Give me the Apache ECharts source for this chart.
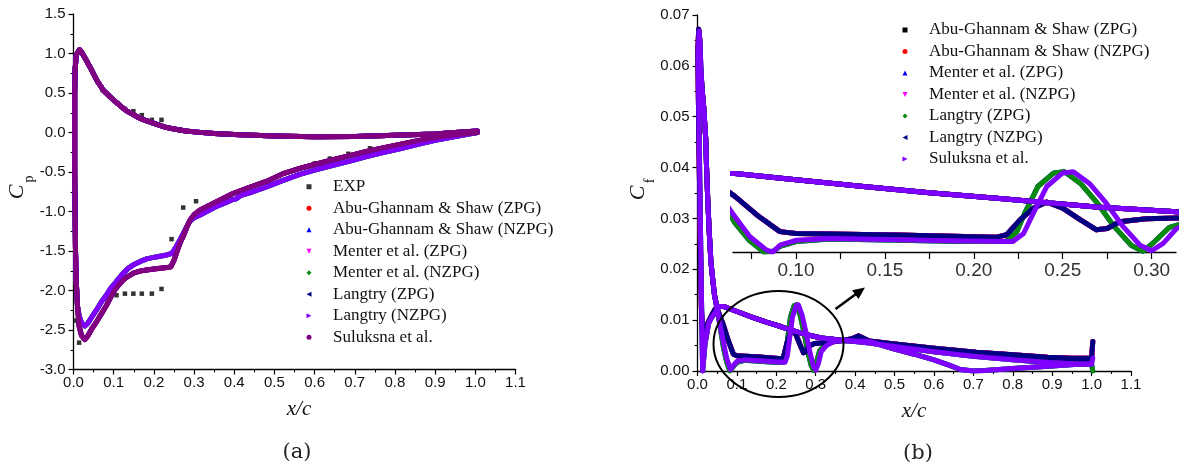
<!DOCTYPE html>
<html><head><meta charset="utf-8">
<script src="https://cdn.jsdelivr.net/npm/echarts@6/dist/echarts.min.js"></script>
<style>html,body{margin:0;padding:0;background:#fff}#c{width:1184px;height:470px}</style>
</head><body><div id="c"></div>
<script>
// ---------- Panel (a): pressure coefficient ----------
const cpNames = ['EXP','Abu-Ghannam & Shaw (ZPG)','Abu-Ghannam & Shaw (NZPG)','Menter et al. (ZPG)','Menter et al. (NZPG)','Langtry (ZPG)','Langtry (NZPG)','Suluksna et al.'];
const cpExp = [[0.006,-2.38],[0.014,-2.66],[0.072,0.54],[0.091,0.45],[0.109,0.37],[0.128,0.30],[0.149,0.27],[0.170,0.22],[0.195,0.16],[0.219,0.16],
  [0.107,-2.06],[0.128,-2.04],[0.149,-2.04],[0.170,-2.04],[0.195,-2.04],[0.219,-1.98],[0.244,-1.35],[0.273,-0.95],[0.305,-0.87],
  [0.601,-0.39],[0.638,-0.33],[0.684,-0.27],[0.738,-0.20]];
// pressure side, trailing edge -> leading edge
const cpPressure = [[1.005,0.02],[0.95,0.0],[0.9,-0.02],[0.8,-0.035],[0.7,-0.05],[0.6,-0.055],[0.5,-0.045],[0.45,-0.035],[0.4,-0.025],[0.35,-0.012],
  [0.3,0.008],[0.28,0.018],[0.25,0.045],[0.23,0.065],[0.2,0.115],[0.165,0.18],[0.13,0.28],[0.1,0.41],[0.075,0.53],[0.058,0.66],[0.041,0.83],
  [0.029,0.94],[0.02,1.02],[0.015,1.05],[0.011,1.04],[0.007,0.98]];
const cpLead = [[0.004,0.8],[0.003,0.5],[0.003,0.0],[0.003,-0.5],[0.004,-1.0],[0.005,-1.5],[0.007,-1.9],[0.010,-2.2]];
// suction side, ZPG-type group
const cpSuctionA = [[0.014,-2.45],[0.020,-2.57],[0.028,-2.62],[0.035,-2.58],[0.045,-2.49],[0.058,-2.39],[0.07,-2.29],[0.083,-2.18],[0.093,-2.08],
  [0.103,-1.99],[0.114,-1.92],[0.124,-1.865],[0.136,-1.82],[0.149,-1.78],[0.165,-1.755],[0.182,-1.74],[0.205,-1.725],[0.232,-1.71],[0.242,-1.70],
  [0.25,-1.62],[0.258,-1.5],[0.265,-1.40],[0.274,-1.3],[0.282,-1.2],[0.29,-1.11],[0.3,-1.04],[0.315,-0.98],[0.335,-0.93],[0.356,-0.876],[0.398,-0.77],
  [0.44,-0.69],[0.48,-0.62],[0.52,-0.525],[0.563,-0.455],[0.6,-0.405],[0.646,-0.345],[0.69,-0.29],[0.729,-0.24],[0.77,-0.195],[0.812,-0.15],
  [0.86,-0.1],[0.9,-0.065],[0.95,-0.03],[1.005,0.0]];
// suction side, NZPG-type group
const cpSuctionB = [[0.014,-2.32],[0.020,-2.41],[0.028,-2.45],[0.035,-2.42],[0.045,-2.34],[0.058,-2.24],[0.07,-2.14],[0.083,-2.05],[0.093,-1.97],
  [0.103,-1.91],[0.114,-1.84],[0.124,-1.78],[0.136,-1.72],[0.149,-1.675],[0.165,-1.635],[0.182,-1.60],[0.205,-1.575],[0.232,-1.55],[0.245,-1.53],
  [0.255,-1.45],[0.265,-1.36],[0.274,-1.27],[0.282,-1.19],[0.29,-1.12],[0.3,-1.08],[0.315,-1.045],[0.335,-0.99],[0.356,-0.935],[0.38,-0.885],
  [0.395,-0.85],[0.405,-0.84],[0.415,-0.80],[0.44,-0.76],[0.48,-0.69],[0.52,-0.61],[0.563,-0.53],[0.6,-0.475],[0.646,-0.415],[0.69,-0.36],
  [0.729,-0.305],[0.77,-0.255],[0.812,-0.205],[0.86,-0.145],[0.9,-0.1],[0.95,-0.05],[1.005,0.0]];
const cpGroup = [null,'A','B','A','B','A','B','A'];

// ---------- Panel (b): skin friction coefficient ----------
const cfNames = ['Abu-Ghannam & Shaw (ZPG)','Abu-Ghannam & Shaw (NZPG)','Menter et al. (ZPG)','Menter et al. (NZPG)','Langtry (ZPG)','Langtry (NZPG)','Suluksna et al.'];
const cfPress = [[0.055,0.0127],[0.0657,0.0127],[0.1,0.0117],[0.138,0.0106],[0.175,0.0096],[0.213,0.0087],[0.24,0.0080],[0.269,0.0073],
  [0.314,0.0065],[0.36,0.0061],[0.40,0.0059],[0.436,0.0058]];
const cfPressTailL = [[0.5,0.0051],[0.6,0.0044],[0.707,0.0036],[0.8,0.0031],[0.888,0.0026],[0.95,0.0024],[1.0,0.0022]];
const cfPressTailE = [[0.5,0.0043],[0.55,0.0033],[0.6,0.0022],[0.64,0.0011],[0.667,0.0003],[0.70,0.0],[0.73,0.0001],[0.8,0.0005],[0.9,0.0010],[1.0,0.0015]];
const cfLeadL = [[0.045,0.0122],[0.035,0.0108],[0.025,0.0092],[0.018,0.0080],[0.013,0.0072],[0.010,0.012],[0.008,0.022],[0.006,0.032],
  [0.004,0.043],[0.002,0.055],[0.001,0.063],[0.003,0.0672],[0.005,0.066],[0.008,0.0595],[0.012,0.055],[0.015,0.0527],[0.021,0.0455],
  [0.023,0.040],[0.026,0.0337],[0.030,0.027],[0.034,0.0215],[0.038,0.0185],[0.043,0.0150],[0.050,0.0122]];
const cfLeadE = [[0.045,0.0115],[0.035,0.0104],[0.028,0.0093],[0.019,0.0053],[0.013,0.0],[0.011,0.010],[0.009,0.020],[0.007,0.031],
  [0.005,0.042],[0.003,0.054],[0.002,0.062],[0.004,0.0668],[0.006,0.065],[0.009,0.059],[0.012,0.055],[0.015,0.0527],[0.021,0.0455],
  [0.023,0.040],[0.026,0.0337],[0.030,0.027],[0.034,0.0215],[0.038,0.0185],[0.043,0.0150],[0.050,0.0122]];
const cfSucL = [[0.0657,0.0090],[0.078,0.0060],[0.091,0.0033],[0.10,0.0030],[0.157,0.00275],[0.213,0.0024],[0.2185,0.0028],[0.226,0.0052],
  [0.2335,0.0071],[0.241,0.0081],[0.25,0.0071],[0.26,0.0052],[0.269,0.0036],[0.275,0.0038],[0.282,0.0049],[0.297,0.0054],[0.314,0.0055],
  [0.35,0.0058],[0.39,0.0063],[0.409,0.0069],[0.42,0.0065],[0.436,0.0059],[0.5,0.0053],[0.6,0.0045],[0.707,0.0037],[0.8,0.0032],
  [0.888,0.0027],[0.95,0.0025],[1.0,0.0025],[1.003,0.0058]];
const cfSucE = [[0.0657,0.0057],[0.074,0.0025],[0.0835,0.0003],[0.087,0.0],[0.091,0.0011],[0.10,0.0019],[0.119,0.0022],[0.157,0.0020],
  [0.194,0.0018],[0.222,0.0017],[0.228,0.0030],[0.2335,0.0063],[0.241,0.0106],[0.250,0.0128],[0.256,0.0130],[0.265,0.0111],[0.2745,0.0079],
  [0.284,0.0041],[0.2935,0.0011],[0.300,0.0002],[0.3065,0.0014],[0.314,0.0038],[0.327,0.0050],[0.345,0.0058],[0.363,0.0060],[0.40,0.0058],
  [0.436,0.0055],[0.5,0.0048],[0.6,0.0038],[0.7,0.0029],[0.8,0.0022],[0.9,0.0016],[1.0,0.0013],[1.003,0.0025]];
const cfSucE2 = [[0.0657,0.0047],[0.074,0.0018],[0.082,0.0],[0.087,0.0001],[0.091,0.0009],[0.10,0.0017],[0.119,0.0021],[0.157,0.0019],
  [0.194,0.0017],[0.218,0.0017],[0.224,0.0032],[0.229,0.0065],[0.236,0.0106],[0.245,0.0128],[0.251,0.0130],[0.26,0.0111],[0.2695,0.0079],
  [0.279,0.0041],[0.2885,0.0011],[0.295,0.0001],[0.301,0.0015],[0.31,0.0040],[0.325,0.0052],[0.345,0.0058],[0.363,0.0060],[0.40,0.0058],
  [0.436,0.0055],[0.5,0.0048],[0.6,0.0038],[0.7,0.0029],[0.8,0.0022],[0.9,0.0016],[1.0,0.0013],[1.003,0.0]];
const cfGroup = ['L','L','E2','L','E2','L','E'];

// tick labels
const xTickLabels = ['0.0','0.1','0.2','0.3','0.4','0.5','0.6','0.7','0.8','0.9','1.0','1.1'];
const insetTickValues = [0.075,0.1,0.125,0.15,0.175,0.2,0.225,0.25,0.275,0.3];
const insetLabelValues = [0.1,0.15,0.2,0.25,0.3];

// ---------- styles ----------
const cpColors = ['#000000','#ff0000','#0000ff','#ff00ff','#0a8a0a','#000080','#8000ff','#800080'];
const cfColors = ['#000000','#ff0000','#0000ff','#ff00ff','#0a8a0a','#000080','#8000ff'];
const P = {
  rect:'path://M0,0H10V10H0Z', up:'path://M5,0L10,10L0,10Z', down:'path://M0,0L10,0L5,10Z',
  left:'path://M10,0L10,10L0,5Z', right:'path://M0,0L0,10L10,5Z', dia:'path://M5,0L10,5L5,10L0,5Z', circ:'circle'
};
const cpIcons = [P.rect,P.circ,P.up,P.down,P.dia,P.left,P.right,P.circ];
const cfIcons = [P.rect,P.circ,P.up,P.down,P.dia,P.left,P.right];

const chart = echarts.init(document.getElementById('c'), null, {renderer:'canvas'});
const tickFont = {fontFamily:'Liberation Sans, Arial, sans-serif', fontSize:15, color:'#111'};

function mainX(gi, lab){
  return {type:'value', gridIndex:gi, min:0, max:1.1, interval:0.1,
    axisLine:{show:true, onZero:false, lineStyle:{color:'#000', width:1.3}},
    axisTick:{show:true, length:5, lineStyle:{color:'#000', width:1.2}},
    minorTick:{show:true, splitNumber:2, length:3, lineStyle:{color:'#000', width:1.1}},
    splitLine:{show:false}, minorSplitLine:{show:false},
    axisLabel:Object.assign({margin:6, formatter:(v)=>lab[Math.round(v*10)]}, tickFont)};
}
function mainY(gi, min, max, step, dec){
  return {type:'value', gridIndex:gi, min:min, max:max, interval:step,
    axisLine:{show:true, onZero:false, lineStyle:{color:'#000', width:1.3}},
    axisTick:{show:true, length:5, lineStyle:{color:'#000', width:1.2}},
    minorTick:{show:true, splitNumber:2, length:3, lineStyle:{color:'#000', width:1.1}},
    splitLine:{show:false}, minorSplitLine:{show:false},
    axisLabel:Object.assign({margin:8, formatter:(v)=>v.toFixed(dec)}, tickFont)};
}

const series = [];
series.push({type:'scatter', name:cpNames[0], xAxisIndex:0, yAxisIndex:0, data:cpExp, symbol:'rect', symbolSize:4.5,
  itemStyle:{color:cpColors[0]}, silent:true, z:2});
for (let i=1;i<cpNames.length;i++){
  const suc = cpGroup[i]==='A' ? cpSuctionA : cpSuctionB;
  series.push({type:'line', name:cpNames[i], xAxisIndex:0, yAxisIndex:0, data:cpPressure.concat(cpLead, suc),
    showSymbol:false, symbol:'none', silent:true, z:3, color:cpColors[i],
    lineStyle:{width:5, color:cpColors[i], cap:'round', join:'round'}});
}
function cfData(i){
  const g = cfGroup[i];
  const press = cfPress.concat(g==='L' ? cfPressTailL : cfPressTailE).slice().reverse();
  const lead = g==='L' ? cfLeadL : cfLeadE;
  const suc = g==='L' ? cfSucL : (g==='E' ? cfSucE : cfSucE2);
  return press.concat(lead, suc);
}
for (let gi=1; gi<=2; gi++){
  for (let i=0;i<cfNames.length;i++){
    series.push({type:'line', name:cfNames[i]+' ', xAxisIndex:gi, yAxisIndex:gi, data:cfData(i),
      showSymbol:false, symbol:'none', silent:true, z:3, color:cfColors[i], clip:true,
      lineStyle:{width:5, color:cfColors[i], cap:'round', join:'round'}});
  }
}

const legendText = {fontFamily:'Liberation Serif, Times New Roman, serif', fontSize:17, color:'#111', lineHeight:21.5};
const option = {
  animation:false,
  backgroundColor:'#fff',
  grid:[
    {left:73.5, top:14, width:442, height:355.5},
    {left:697.5, top:15, width:433.5, height:356},
    {left:733, top:168, width:443, height:84}
  ],
  xAxis:[
    mainX(0, xTickLabels),
    mainX(1, xTickLabels),
    {type:'value', gridIndex:2, min:0.0646, max:0.3137,
      axisLine:{show:true, onZero:false, lineStyle:{color:'#000', width:1.3}},
      axisTick:{show:true, length:7, customValues:insetTickValues, lineStyle:{color:'#000', width:1.2}},
      splitLine:{show:false},
      axisLabel:{customValues:insetLabelValues, margin:9, formatter:(v)=>v.toFixed(2),
        fontFamily:'Liberation Sans, Arial, sans-serif', fontSize:19, color:'#333'}}
  ],
  yAxis:[
    mainY(0, -3, 1.5, 0.5, 1),
    mainY(1, 0, 0.07, 0.01, 2),
    {type:'value', gridIndex:2, min:0, max:0.0136, show:false, splitLine:{show:false}}
  ],
  legend:[
    {left:306.5, top:176, orient:'vertical', padding:0, itemGap:0, itemWidth:38, itemHeight:5, selectedMode:false,
      textStyle:legendText, itemStyle:{borderWidth:0}, symbolKeepAspect:true,
      data:cpNames.map((n,i)=>({name:n, icon:cpIcons[i]}))},
    {left:902.5, top:19.25, orient:'vertical', padding:0, itemGap:0, itemWidth:38, itemHeight:5, selectedMode:false,
      textStyle:legendText, itemStyle:{borderWidth:0}, symbolKeepAspect:true,
      data:cfNames.map((n,i)=>({name:n+' ', icon:cfIcons[i]}))}
  ],
  graphic:[
    {type:'text', x:17, y:192, rotation:Math.PI/2, style:{text:'C', font:'italic 22px "Liberation Serif"', fill:'#111', textAlign:'center', textVerticalAlign:'middle'}},
    {type:'text', x:29, y:179, rotation:Math.PI/2, style:{text:'p', font:'14px "Liberation Serif"', fill:'#111', textAlign:'center', textVerticalAlign:'middle'}},
    {type:'text', x:638, y:193, rotation:Math.PI/2, style:{text:'C', font:'italic 22px "Liberation Serif"', fill:'#111', textAlign:'center', textVerticalAlign:'middle'}},
    {type:'text', x:650, y:181, rotation:Math.PI/2, style:{text:'f', font:'14px "Liberation Serif"', fill:'#111', textAlign:'center', textVerticalAlign:'middle'}},
    {type:'text', x:299, y:409, style:{text:'x/c', font:'italic 21px "Liberation Serif"', fill:'#111', textAlign:'center', textVerticalAlign:'middle'}},
    {type:'text', x:914, y:411, style:{text:'x/c', font:'italic 21px "Liberation Serif"', fill:'#111', textAlign:'center', textVerticalAlign:'middle'}},
    {type:'text', x:297, y:453, style:{text:'(a)', font:'21px "DejaVu Serif"', fill:'#222', textAlign:'center', textVerticalAlign:'middle'}},
    {type:'text', x:918, y:454, style:{text:'(b)', font:'21px "DejaVu Serif"', fill:'#222', textAlign:'center', textVerticalAlign:'middle'}},
    {type:'ellipse', shape:{cx:778.5, cy:344, rx:65, ry:53}, style:{fill:'none', stroke:'#000', lineWidth:2}, z:10},
    {type:'line', shape:{x1:835.5, y1:309, x2:856, y2:294}, style:{stroke:'#000', lineWidth:2.5}, z:10},
    {type:'polygon', shape:{points:[[865,287.5],[858.5,299.0],[852.1,290.2]]}, style:{fill:'#000'}, z:10}
  ],
  series:series
};
chart.setOption(option);
</script>
</body></html>
